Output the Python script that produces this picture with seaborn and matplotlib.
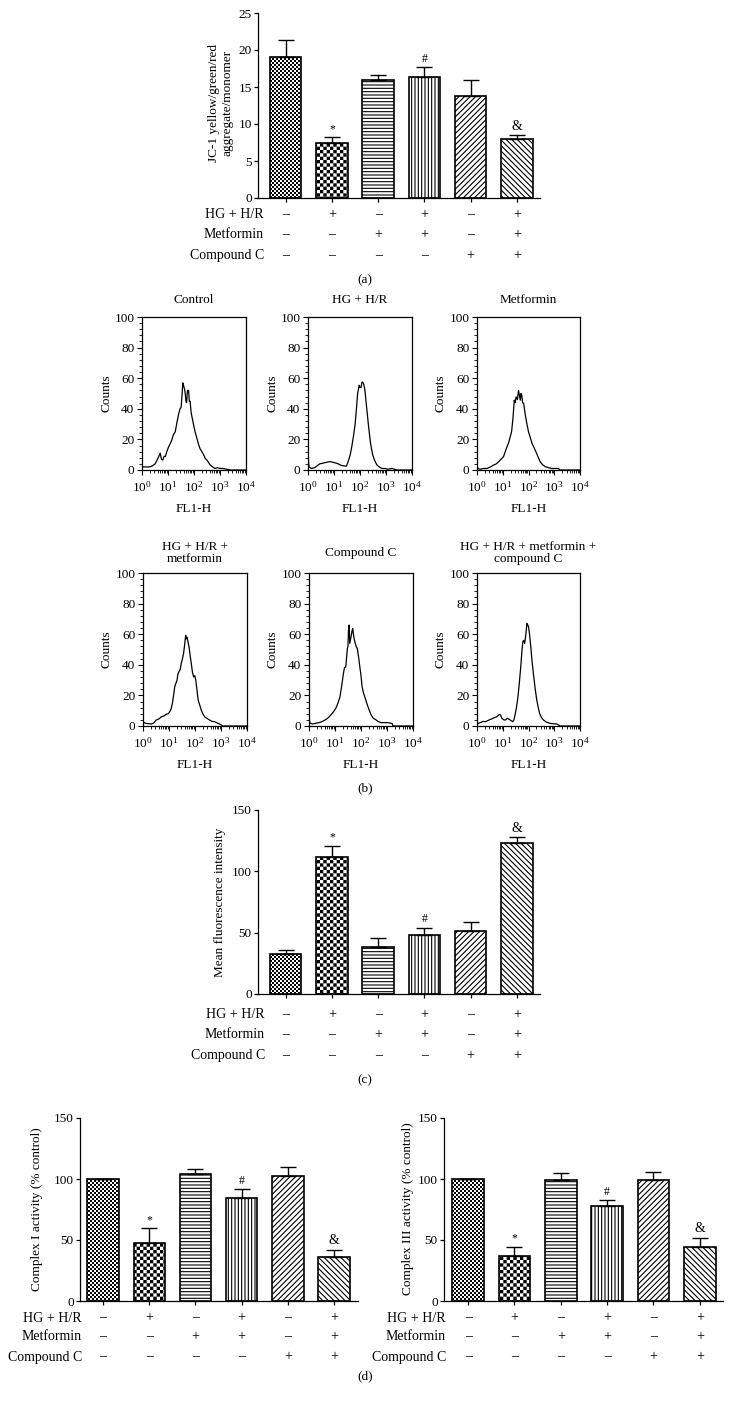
import numpy as np
import pandas as pd
import matplotlib
matplotlib.use("Agg")
import matplotlib.pyplot as plt
import matplotlib.hatch as mhatch
import matplotlib.transforms as mtransforms
from matplotlib.path import Path
from matplotlib.ticker import (MultipleLocator, LogLocator, LogFormatterMathtext,
                               NullFormatter)
import seaborn as sns

# ----------------------------------------------------------------- data
groups = ["Control", "HG+H/R", "Metformin", "HG+H/R+Met", "Compound C", "HG+H/R+Met+CC"]
row_names = ["HG + H/R", "Metformin", "Compound C"]
hg_row = ["–", "+", "–", "+", "–", "+"]
met_row = ["–", "–", "+", "+", "–", "+"]
cc_row = ["–", "–", "–", "–", "+", "+"]
marks = ["", "*", "", "#", "", "&"]

jc1_mean = [19.0, 7.4, 16.0, 16.4, 13.8, 8.0]
jc1_err = [2.3, 0.8, 0.6, 1.3, 2.1, 0.5]
mfi_mean = [32.8, 111.7, 38.0, 47.7, 51.3, 122.9]
mfi_err = [3.3, 9.3, 7.6, 6.5, 7.0, 5.4]
c1_mean = [100.0, 47.4, 104.4, 84.7, 102.2, 35.9]
c1_err = [0.0, 12.1, 4.1, 7.4, 8.0, 6.3]
c3_mean = [100.0, 36.9, 99.4, 78.1, 99.4, 44.3]
c3_err = [0.0, 7.7, 5.4, 4.4, 6.3, 7.7]

hist_titles = ["Control", "HG + H/R", "Metformin",
               "HG + H/R +\nmetformin", "Compound C",
               "HG + H/R + metformin +\ncompound C"]

ctrl_fl = [1.0, 1.02, 1.08, 1.3, 1.8, 2.4, 3.2, 4.2, 5.0, 5.6, 6.3, 7.0, 7.9, 9.0, 10.5, 12, 14, 16,
           19, 22, 26, 29, 32, 35, 37, 40, 43, 46, 49, 52, 56, 62, 66, 71, 77, 83, 95, 110, 128,
           148, 170, 200, 235, 270, 330, 417, 520, 646, 800, 1000, 1300, 1820, 2500, 10000]
ctrl_cnt = [6, 3, 2, 2, 2, 2.5, 4, 8, 11, 7, 6.5, 9, 8.7, 12, 15, 17, 19.6, 23,
            25, 31, 37, 40, 41, 50, 57, 55, 53, 50, 45, 44, 52, 52, 45, 45, 38, 35, 30, 25, 21,
            17, 14, 12, 10, 7.6, 6, 3.3, 2, 1, 1.5, 1, 1, 0.5, 0, 0]

hg_fl = [1.0, 1.03, 1.06, 1.1, 1.35, 1.8, 2.8, 3.8, 5.1, 7, 9.3, 12, 14.5, 19, 26, 30, 35, 42,
         48, 56, 65, 73, 81, 93, 100, 110, 118, 126, 140, 155, 170, 190, 215, 245, 275, 309,
         370, 447, 550, 692, 900, 1200, 1700, 2600, 10000]
hg_cnt = [20, 10, 4, 2, 1, 1.5, 4, 4.5, 5, 5.5, 5, 4.5, 4, 3, 2.6, 2.5, 5.4, 10,
          15, 22, 30, 40, 50, 55.4, 54, 54, 57, 57.6, 56, 52, 45, 37, 28, 19.6, 14, 9.8,
          6, 3.3, 2, 1, 1, 0.5, 1, 0, 0]

met_fl = [1.0, 1.03, 1.07, 1.35, 1.8, 2.45, 3.3, 4.5, 5.6, 6.9, 8.5, 10.7, 12.5, 14.5, 17, 19.5,
          22, 24.5, 26, 28, 30, 33, 37, 41, 44, 48, 51, 55, 59, 65, 75, 87, 100, 115, 140, 182,
          230, 282, 350, 447, 600, 794, 1100, 1445, 1700, 10000]
met_cnt = [7.6, 3, 1, 0.5, 1, 1, 2, 3.3, 4, 5.4, 7, 8.7, 12, 15, 18, 21.7,
           25, 32.6, 38, 45.6, 44, 47.8, 46, 52, 49, 45.6, 50, 48.9, 44, 43.5, 36, 30, 25, 21.7, 17, 13,
           9, 5.4, 3.5, 2.2, 1.5, 1, 1, 1, 0, 0]

hgm_fl = [1.0, 1.15, 1.34, 1.7, 2.1, 2.6, 3.2, 4.0, 5.1, 6.3, 7.9, 9.3, 10.7, 12, 13.5, 15, 16.6,
          18.5, 20.4, 22, 24, 27, 29.5, 33, 36.3, 40, 43.7, 46, 49, 54, 59, 65, 72, 80, 89, 98,
          107, 118, 132, 150, 174, 200, 234, 290, 363, 450, 575, 700, 891, 1200, 10000]
hgm_cnt = [2.8, 2, 1.7, 1.5, 1.3, 2, 3.9, 4.5, 6, 6.5, 7.8, 8, 9.3, 11, 14.8, 20, 25.7,
           28, 30, 34, 35.4, 37, 40.9, 44, 47.4, 53, 59.3, 57, 58, 55, 51.7, 46, 40.9, 35, 32, 33,
           30, 24, 17, 14, 10.4, 8, 6, 5, 3.9, 3, 2.8, 2, 1.3, 0, 0]

cc_fl = [1.0, 1.03, 1.07, 1.35, 1.8, 2.45, 3.3, 4.5, 5.6, 6.9, 8.5, 10.7, 13, 15.5, 18, 21, 23,
         26, 28, 30, 31.5, 33, 35, 37, 41, 45, 48, 51, 56, 65, 72, 81, 90, 100, 110, 123, 140,
         166, 200, 245, 300, 355, 450, 589, 800, 1000, 1260, 1600, 1700, 10000]
cc_cnt = [8, 5, 2, 1.3, 1.8, 2.2, 3, 4.3, 5.5, 7.2, 9, 11.5, 15, 19, 26, 34, 38,
          38.7, 45, 50.7, 52, 62.6, 66, 54, 58, 62, 63.7, 60, 56, 52, 50.7, 45, 38.7, 33, 25.7, 22, 19,
          15, 11, 7.2, 5, 4.3, 3, 2.2, 2.2, 2.2, 2, 1.5, 0, 0]

hgmc_fl = [1.0, 1.03, 1.08, 1.35, 1.7, 2.1, 2.6, 3.3, 4.2, 5.1, 5.9, 6.9, 8.0, 9.3, 11, 12.6, 15,
           18.2, 21, 24.5, 27, 30, 34, 39, 44, 50, 55, 60, 65, 71, 79, 87, 94, 100, 110, 123, 138,
           155, 180, 209, 240, 269, 320, 380, 500, 692, 900, 1260, 1700, 10000]
hgmc_cnt = [5, 3, 1.5, 2.2, 3, 2.8, 3.5, 4.3, 5, 5.7, 6, 7.2, 7.5, 5, 4, 3.9, 5,
            4.3, 3.5, 2.8, 4, 7.2, 12, 19, 28, 38.7, 48, 55, 56, 54, 60, 67, 66, 64.8, 60, 51.7, 42,
            34, 25, 17, 12, 8.3, 5.5, 3.9, 2.5, 1.7, 1.5, 1.3, 0, 0]

hist_fl = [ctrl_fl, hg_fl, met_fl, hgm_fl, cc_fl, hgmc_fl]
hist_cnt = [ctrl_cnt, hg_cnt, met_cnt, hgm_cnt, cc_cnt, hgmc_cnt]


# ------------------------------------------------- checkerboard hatch ('O')
class CheckerHatch(mhatch.HatchPatternBase):
    """Filled checkerboard; 'O' count sets the square density."""
    def __init__(self, hatch, density):
        k = hatch.count("O")
        self.n = 10 * k if k else 0
        self.num_vertices = (self.n * self.n // 2) * 5 if self.n else 0

    def set_vertices_and_codes(self, vertices, codes):
        s = 1.0 / self.n
        inset = min(plt.rcParams["hatch.linewidth"] / 144.0, 0.4 * s)
        sq = np.array([[inset, inset], [s - inset, inset], [s - inset, s - inset],
                       [inset, s - inset], [inset, inset]])
        parts = []
        for i in range(self.n):
            for j in range(self.n):
                if (i + j) % 2 == 0:
                    parts.append(sq + [i * s, j * s])
        vertices[:] = np.concatenate(parts)
        c = np.array([Path.MOVETO, Path.LINETO, Path.LINETO, Path.LINETO, Path.CLOSEPOLY])
        codes[:] = np.tile(c, len(parts))


mhatch._hatch_types = [CheckerHatch if t is mhatch.LargeCircles else t
                       for t in mhatch._hatch_types]

# ----------------------------------------------------------------- style
sns.set_style("ticks", {"axes.edgecolor": "black", "xtick.color": "black",
                        "ytick.color": "black", "text.color": "black",
                        "axes.labelcolor": "black"})
plt.rcParams["font.family"] = ["Liberation Serif", "DejaVu Serif"]
plt.rcParams["mathtext.fontset"] = "stix"
plt.rcParams["hatch.linewidth"] = 0.8
plt.rcParams["axes.linewidth"] = 0.9

W, H = 730, 1408
fig = plt.figure(figsize=(W / 100, H / 100), dpi=100)

bar_hatches = ["OOOOO", "OOO", "-----", "|||||", "//////", "\\\\\\\\\\\\"]


def add_ax(box):
    l, t, r, b = box
    return fig.add_axes([l / W, 1 - b / H, (r - l) / W, (b - t) / H])


def frac(box, xp, yp):
    l, t, r, b = box
    return (xp - l) / (r - l), (b - yp) / (b - t)


def bar_panel(box, means, errs, ylim, ystep, ylabel, ylab_xy, rows_y, lab_right, xlim):
    ax = add_ax(box)
    df = pd.DataFrame({"group": groups, "value": means})
    sns.barplot(data=df, x="group", y="value", ax=ax, color="white", saturation=1,
                edgecolor="black", linewidth=1.2, width=0.68, errorbar=None)
    for p, h in zip(ax.patches, bar_hatches):
        p.set_hatch(h)
    xs = np.arange(len(groups))
    ax.errorbar(xs, means, yerr=[np.zeros(len(means)), errs], fmt="none",
                ecolor="black", elinewidth=1.0, capsize=5.5, capthick=1.0, zorder=3)
    for i, m in enumerate(marks):
        if m:
            ax.annotate(m, xy=(i, means[i] + errs[i]), xytext=(0, 1.5),
                        textcoords="offset points", ha="center", va="bottom",
                        fontsize=10 if m == "&" else 8.5)
    ax.set_xlim(*xlim)
    ax.set_ylim(*ylim)
    ax.yaxis.set_major_locator(MultipleLocator(ystep))
    ax.set_xticks(xs)
    ax.set_xticklabels([""] * len(xs))
    ax.set_xlabel("")
    ax.tick_params(axis="both", direction="out", length=3, width=0.9,
                   labelsize=9.5, pad=1.5)
    sns.despine(ax=ax)
    ax.set_ylabel(ylabel, fontsize=9.5, linespacing=1.15, va="center", ha="center")
    ax.yaxis.set_label_coords(*frac(box, *ylab_xy))
    tr = mtransforms.blended_transform_factory(ax.transData, fig.transFigure)
    for name, signs, yp in zip(row_names, [hg_row, met_row, cc_row], rows_y):
        fig.text(lab_right / W, 1 - yp / H, name, ha="right", va="center", fontsize=10)
        for i, s in enumerate(signs):
            ax.text(i, 1 - yp / H, s, transform=tr, ha="center", va="center", fontsize=10)
    return ax


def hist_panel(box, fl, cnt, title, title_y, counts_x, fl_y):
    ax = add_ax(box)
    sns.lineplot(x=fl, y=cnt, ax=ax, color="black", linewidth=0.9,
                 sort=False, estimator=None)
    ax.set_xscale("log")
    ax.set_xlim(1, 1e4)
    ax.set_ylim(0, 100)
    ax.xaxis.set_major_locator(LogLocator(base=10, numticks=10))
    ax.xaxis.set_minor_locator(LogLocator(base=10, subs=np.arange(2, 10), numticks=60))
    ax.xaxis.set_major_formatter(LogFormatterMathtext())
    ax.xaxis.set_minor_formatter(NullFormatter())
    ax.yaxis.set_major_locator(MultipleLocator(20))
    ax.yaxis.set_minor_locator(MultipleLocator(4))
    ax.tick_params(axis="both", which="major", direction="out", length=3.5, width=0.8,
                   labelsize=9.5)
    ax.tick_params(axis="both", which="minor", direction="out", length=2, width=0.6)
    ax.tick_params(axis="x", which="major", pad=3.5)
    ax.tick_params(axis="y", which="major", pad=2)
    for sp in ax.spines.values():
        sp.set_visible(True)
        sp.set_linewidth(0.9)
    ax.set_xlabel("FL1-H", fontsize=9.5, va="center")
    ax.xaxis.set_label_coords(*frac(box, (box[0] + box[2]) / 2, fl_y))
    ax.set_ylabel("Counts", fontsize=9.5, va="center", ha="center")
    ax.yaxis.set_label_coords(*frac(box, counts_x, (box[1] + box[3]) / 2))
    ax.set_title(title, fontsize=9.5, va="center", linespacing=1.05, pad=0,
                 y=frac(box, 0, title_y)[1])
    return ax


# ----------------------------------------------------------------- panel (a)
bar_panel((258, 13, 540, 198), jc1_mean, jc1_err, (0, 25), 5,
          "JC-1 yellow/green/red\naggregate/monomer", (221, 103),
          (215, 235, 256), 264, (-0.6, 5.5))

# ----------------------------------------------------------------- panel (b)
hist_boxes = [(142, 317, 246, 470), (308, 317, 412, 470), (477, 317, 580, 470),
              (143, 573, 247, 726), (309, 573, 413, 726), (477, 573, 580, 726)]
counts_xs = [107, 273, 441, 107, 273, 441]
for k in range(6):
    row = k // 3
    hist_panel(hist_boxes[k], hist_fl[k], hist_cnt[k], hist_titles[k],
               300 if row == 0 else 553, counts_xs[k], 509 if row == 0 else 765)

# ----------------------------------------------------------------- panel (c)
bar_panel((258, 810, 540, 994), mfi_mean, mfi_err, (0, 150), 50,
          "Mean fluorescence intensity", (220, 902),
          (1015, 1035, 1056), 265, (-0.6, 5.5))

# ----------------------------------------------------------------- panel (d)
bar_panel((80, 1118, 358, 1301), c1_mean, c1_err, (0, 150), 50,
          "Complex I activity (% control)", (37, 1209),
          (1318, 1337, 1357), 82, (-0.5, 5.52))
bar_panel((444, 1118, 723, 1301), c3_mean, c3_err, (0, 150), 50,
          "Complex III activity (% control)", (408, 1209),
          (1318, 1337, 1357), 446, (-0.52, 5.5))

# ----------------------------------------------------------------- captions
for cap, yp in [("(a)", 280), ("(b)", 788), ("(c)", 1080), ("(d)", 1376)]:
    fig.text(365 / W, 1 - yp / H, cap, ha="center", va="center", fontsize=9.5)

fig.savefig("out.png", dpi=100)
